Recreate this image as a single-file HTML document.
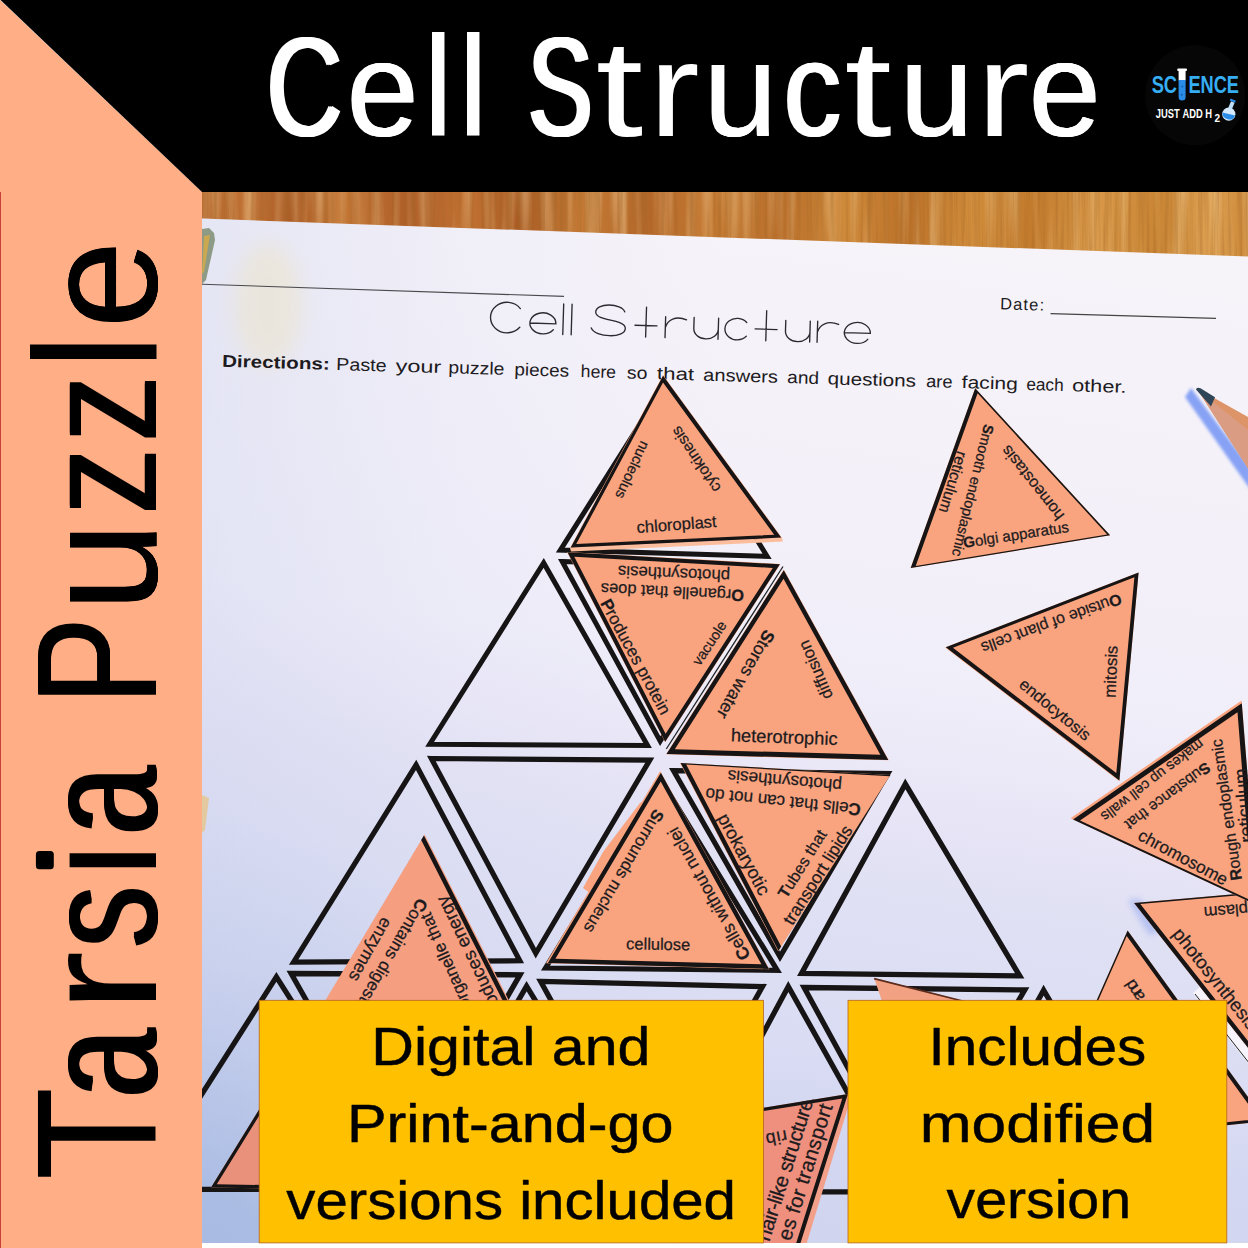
<!DOCTYPE html>
<html><head><meta charset="utf-8"><title>Cell Structure Tarsia Puzzle</title>
<style>
html,body{margin:0;padding:0;background:#fff;}
body{width:1248px;height:1248px;overflow:hidden;font-family:"Liberation Sans",sans-serif;}
svg{display:block;}
svg text{font-family:"Liberation Sans",sans-serif;}
</style></head><body>
<svg width="1248" height="1248" viewBox="0 0 1248 1248">
<defs>
<linearGradient id="paperg" gradientUnits="userSpaceOnUse" x1="860" y1="230" x2="710" y2="1243">
<stop offset="0" stop-color="#f6f3f9"/><stop offset="0.28" stop-color="#f3f0f9"/><stop offset="0.43" stop-color="#f0eef9"/><stop offset="0.5" stop-color="#ece9f8"/><stop offset="0.58" stop-color="#e5e3f5"/><stop offset="0.655" stop-color="#dfe0f4"/><stop offset="0.8" stop-color="#d9dcf3"/><stop offset="0.865" stop-color="#d4d7f1"/><stop offset="1" stop-color="#cfd4ef"/>
</linearGradient>
<linearGradient id="paperl" gradientUnits="userSpaceOnUse" x1="202" y1="0" x2="720" y2="0">
<stop offset="0" stop-color="#c4cdea" stop-opacity="0.32"/><stop offset="0.5" stop-color="#c4cdea" stop-opacity="0.1"/><stop offset="1" stop-color="#c4cdea" stop-opacity="0"/>
</linearGradient>
<radialGradient id="paperr" gradientUnits="userSpaceOnUse" cx="150" cy="1330" r="520">
<stop offset="0" stop-color="#a2b6e1" stop-opacity="1"/><stop offset="0.3" stop-color="#a6b9e2" stop-opacity="0.85"/><stop offset="0.6" stop-color="#b0c0e6" stop-opacity="0.4"/><stop offset="1" stop-color="#b8c6e8" stop-opacity="0"/>
</radialGradient>
<linearGradient id="woodg" gradientUnits="userSpaceOnUse" x1="202" y1="0" x2="1248" y2="30">
<stop offset="0" stop-color="#b3652c"/><stop offset="0.05" stop-color="#c27436"/><stop offset="0.09" stop-color="#ab5c26"/><stop offset="0.14" stop-color="#c37635"/><stop offset="0.2" stop-color="#b0602a"/><stop offset="0.26" stop-color="#c17132"/><stop offset="0.31" stop-color="#aa5c24"/><stop offset="0.37" stop-color="#c47a35"/><stop offset="0.43" stop-color="#b5682a"/><stop offset="0.5" stop-color="#c67b33"/><stop offset="0.56" stop-color="#b86c28"/><stop offset="0.62" stop-color="#cf8a3a"/><stop offset="0.68" stop-color="#bb7129"/><stop offset="0.74" stop-color="#d08c3b"/><stop offset="0.8" stop-color="#c27a2c"/><stop offset="0.86" stop-color="#d89848"/><stop offset="0.92" stop-color="#c98534"/><stop offset="0.97" stop-color="#dda052"/><stop offset="1" stop-color="#cf8c3c"/>
</linearGradient>
<filter id="blur3" x="-30%" y="-30%" width="160%" height="160%"><feGaussianBlur stdDeviation="3"/></filter>
<filter id="blur2" x="-30%" y="-30%" width="160%" height="160%"><feGaussianBlur stdDeviation="1.6"/></filter>
<filter id="blur8" x="-50%" y="-50%" width="200%" height="200%"><feGaussianBlur stdDeviation="10"/></filter>
<filter id="grain" x="0" y="0" width="100%" height="100%"><feTurbulence type="fractalNoise" baseFrequency="0.28 0.008" numOctaves="3" seed="7" result="n"/><feColorMatrix in="n" type="matrix" values="0 0 0 0 0.35  0 0 0 0 0.13  0 0 0 0 0.02  2.6 0 0 0 -1.05"/></filter>
<filter id="grain2" x="0" y="0" width="100%" height="100%"><feTurbulence type="fractalNoise" baseFrequency="0.07 0.004" numOctaves="2" seed="3" result="n"/><feColorMatrix in="n" type="matrix" values="0 0 0 0 0.93  0 0 0 0 0.68  0 0 0 0 0.36  0 2.4 0 0 -1.1"/></filter>
<clipPath id="photo"><rect x="202" y="192" width="1046" height="1051"/></clipPath>
</defs>
<g clip-path="url(#photo)">
<rect x="202" y="192" width="1046" height="70" fill="url(#woodg)"/>
<rect x="202" y="192" width="1046" height="70" filter="url(#grain2)" opacity="0.5"/>
<rect x="202" y="192" width="1046" height="70" filter="url(#grain)" opacity="0.38"/>
<polygon points="202,218.5 1248,256.5 1248,1243 202,1243" fill="url(#paperg)"/>
<polygon points="202,218.5 1248,256.5 1248,1243 202,1243" fill="url(#paperl)"/>
<polygon points="202,218.5 1248,256.5 1248,1243 202,1243" fill="url(#paperr)"/>
<ellipse cx="268" cy="305" rx="34" ry="62" fill="#efe2b2" opacity="0.36" filter="url(#blur8)"/><polygon points="202,795 209,798 205,830 202,833" fill="#e6c48c" opacity="0.8"/>
<polygon points="202,229 209,228 214,233 215,240 206,280 202,284" fill="#8d9a86"/>
<polygon points="204,236 210,235 204,272 202,274" fill="#c9a84f"/>
<line x1="202" y1="284.2" x2="564" y2="296.4" stroke="#4a4a4e" stroke-width="1.1"/>
<text transform="translate(1000.0,309.3) rotate(1.7)" font-size="16.5" fill="#1d1b1e" stroke="#1d1b1e" stroke-width="0" textLength="44.0" lengthAdjust="spacing">Date:</text>
<line x1="1050.5" y1="313.6" x2="1216" y2="318.4" stroke="#444" stroke-width="1.1"/>
<g transform="translate(490.1,332.3) rotate(1.75)" fill="none" stroke="#2b2a30" stroke-width="1.35" stroke-linecap="round">
<path transform="translate(0,0)" d="M29.5,-24.6 A16.5,15.25 0 1 0 29.5,-5.9"/>
<path transform="translate(39.5,0)" d="M0,-10.5 H26 A13,10.5 0 1 0 23.6,-4.5"/>
<path transform="translate(72.7,0)" d="M0,-30.5 V0"/>
<path transform="translate(81.1,0)" d="M0,-30.5 V0"/>
<path transform="translate(101,0)" d="M33,-24.5 C30,-33.5 3,-33 4,-23 C5,-14 34,-17.5 34,-8 C34,2.5 4,2 0,-7.5"/>
<path transform="translate(155.6,0)" d="M0,-30 V0 M-11,-11.5 H11"/>
<path transform="translate(175,0)" d="M0,-21 V0 M0,-10 C2,-18 10,-22.5 21,-18.5"/>
<path transform="translate(203.5,0)" d="M0,-21 V-10 A12.25,10 0 0 0 24.5,-10 M24.5,-21 V0"/>
<path transform="translate(234.6,0)" d="M21.6,-17.7 A12.25,10.75 0 1 0 21.6,-3.8"/>
<path transform="translate(275.8,0)" d="M0,-30 V0 M-11,-11.5 H11"/>
<path transform="translate(295.2,0)" d="M0,-21 V-10 A12.25,10 0 0 0 24.5,-10 M24.5,-21 V0"/>
<path transform="translate(327.1,0)" d="M0,-21 V0 M0,-10 C2,-18 10,-22.5 21,-18.5"/>
<path transform="translate(354.1,0)" d="M0,-10.5 H26 A13,10.5 0 1 0 23.6,-4.5"/>
</g>
<text transform="translate(221.9,366.7) rotate(1.66)" font-size="17" fill="#1d1b1e" font-weight="bold" textLength="107.7" lengthAdjust="spacingAndGlyphs">Directions:</text>
<text transform="translate(336.0,370.0) rotate(1.66)" font-size="17.5" fill="#1d1b1e" textLength="50.5" lengthAdjust="spacingAndGlyphs">Paste</text>
<text transform="translate(395.5,371.7) rotate(1.66)" font-size="17.5" fill="#1d1b1e" textLength="45.7" lengthAdjust="spacingAndGlyphs">your</text>
<text transform="translate(448.3,373.3) rotate(1.66)" font-size="17.5" fill="#1d1b1e" textLength="55.9" lengthAdjust="spacingAndGlyphs">puzzle</text>
<text transform="translate(514.3,375.2) rotate(1.66)" font-size="17.5" fill="#1d1b1e" textLength="54.7" lengthAdjust="spacingAndGlyphs">pieces</text>
<text transform="translate(580.6,377.1) rotate(1.66)" font-size="17.5" fill="#1d1b1e" textLength="35.3" lengthAdjust="spacingAndGlyphs">here</text>
<text transform="translate(626.7,378.4) rotate(1.66)" font-size="17.5" fill="#1d1b1e" textLength="20.5" lengthAdjust="spacingAndGlyphs">so</text>
<text transform="translate(656.8,379.3) rotate(1.66)" font-size="17.5" fill="#1d1b1e" textLength="37.2" lengthAdjust="spacingAndGlyphs">that</text>
<text transform="translate(703.1,380.7) rotate(1.66)" font-size="17.5" fill="#1d1b1e" textLength="74.7" lengthAdjust="spacingAndGlyphs">answers</text>
<text transform="translate(787.1,383.1) rotate(1.66)" font-size="17.5" fill="#1d1b1e" textLength="31.9" lengthAdjust="spacingAndGlyphs">and</text>
<text transform="translate(827.4,384.3) rotate(1.66)" font-size="17.5" fill="#1d1b1e" textLength="88.6" lengthAdjust="spacingAndGlyphs">questions</text>
<text transform="translate(925.9,387.1) rotate(1.66)" font-size="17.5" fill="#1d1b1e" textLength="26.5" lengthAdjust="spacingAndGlyphs">are</text>
<text transform="translate(961.6,388.1) rotate(1.66)" font-size="17.5" fill="#1d1b1e" textLength="56.1" lengthAdjust="spacingAndGlyphs">facing</text>
<text transform="translate(1026.2,390.0) rotate(1.66)" font-size="17.5" fill="#1d1b1e" textLength="37.4" lengthAdjust="spacingAndGlyphs">each</text>
<text transform="translate(1072.0,391.3) rotate(1.66)" font-size="17.5" fill="#1d1b1e" textLength="54.4" lengthAdjust="spacingAndGlyphs">other.</text>
<polygon points="663.0,387.7 560.3,550.1 767.1,556.3" fill="none" stroke="#161414" stroke-width="5.0" stroke-linejoin="miter"/>
<polygon points="543.7,562.9 429.7,744.2 647.6,745.5" fill="none" stroke="#161414" stroke-width="5.0" stroke-linejoin="miter"/>
<polygon points="562.3,561.6 768.6,568.4 660.2,741.1" fill="none" stroke="#161414" stroke-width="5.0" stroke-linejoin="miter"/>
<polygon points="416.1,764.9 293.6,962.2 519.8,960.8" fill="none" stroke="#161414" stroke-width="5.2" stroke-linejoin="miter"/>
<polygon points="431.3,758.5 649.8,760.1 535.8,953.3" fill="none" stroke="#161414" stroke-width="5.2" stroke-linejoin="miter"/>
<polygon points="661.0,780.0 545.6,968.0 777.3,970.4" fill="none" stroke="#161414" stroke-width="5.2" stroke-linejoin="miter"/>
<polygon points="673.5,770.7 887.9,773.5 780.0,956.8" fill="none" stroke="#161414" stroke-width="5.2" stroke-linejoin="miter"/>
<polygon points="905.3,783.9 801.5,973.5 1019.7,975.9" fill="none" stroke="#161414" stroke-width="5.3" stroke-linejoin="miter"/>
<polygon points="276.4,976.9 141.3,1189.3 411.2,1189.3" fill="none" stroke="#161414" stroke-width="5.3" stroke-linejoin="miter"/>
<polygon points="291.1,973.5 520.0,974.8 405.0,1174.7" fill="none" stroke="#161414" stroke-width="5.3" stroke-linejoin="miter"/>
<polygon points="526.6,986.2 404.6,1197.3 655.3,1197.3" fill="none" stroke="#161414" stroke-width="5.3" stroke-linejoin="miter"/>
<polygon points="540.7,981.4 762.5,986.5 652.0,1184.5" fill="none" stroke="#161414" stroke-width="5.3" stroke-linejoin="miter"/>
<polygon points="788.3,986.5 678.1,1191.8 903.1,1191.8" fill="none" stroke="#161414" stroke-width="5.3" stroke-linejoin="miter"/>
<polygon points="804.1,987.5 1024.8,989.9 911.6,1184.6" fill="none" stroke="#161414" stroke-width="5.3" stroke-linejoin="miter"/>
<polygon points="1043.6,990.2 929.5,1197.3 1165.4,1197.3" fill="none" stroke="#161414" stroke-width="5.3" stroke-linejoin="miter"/>
<polygon points="345.0,970.0 211.0,1187.6 560.0,1193.0" fill="#ea917b"/>
<path d="M345.0 970.0 L211.0 1187.6 L560.0 1193.0Z M347.3 972.4 L216.8 1184.3 L556.7 1189.5Z" fill="#161414" fill-rule="evenodd"/>
<polygon points="424.6,834.4 300.0,1042.8 530.0,1042.0" fill="#f59e80"/>
<path d="M423.9 835.6 L300.0 1042.8 L528.7 1042.0Z M421.2 840.1 L300.0 1042.8 L523.7 1042.0Z" fill="#161414" fill-rule="evenodd"/>
<text transform="translate(418.2,897.1) rotate(120.0)" font-size="17.1" fill="#1d1b1e" stroke="#1d1b1e" stroke-width="0.25" textLength="140.0" lengthAdjust="spacing"><tspan font-weight="bold">C</tspan>ontains digestive</text>
<text transform="translate(382.5,916.2) rotate(119.4)" font-size="17.5" fill="#1d1b1e" stroke="#1d1b1e" stroke-width="0.25" textLength="70.1" lengthAdjust="spacing">enzymes</text>
<text transform="translate(473.2,1008.4) rotate(-113.9)" font-size="16.9" fill="#1d1b1e" stroke="#1d1b1e" stroke-width="0.25" textLength="106.0" lengthAdjust="spacing"><tspan font-weight="bold">O</tspan>rganelle that</text>
<text transform="translate(505.9,1016.8) rotate(-115.7)" font-size="18.3" fill="#1d1b1e" stroke="#1d1b1e" stroke-width="0.25" textLength="136.1" lengthAdjust="spacing">produces energy</text>
<polygon points="640,803 603,852 583,888 590,893 646,800" fill="#f9a47f"/>
<polygon points="546.0,963.3 769.4,969.3 660.2,771.0" fill="#f9a47f"/>
<path d="M547.9 963.1 L768.9 969.0 L660.9 772.8Z M555.4 958.8 L761.4 964.3 L660.7 781.5Z" fill="#161414" fill-rule="evenodd"/>
<text transform="translate(626.1,949.3) rotate(0.9)" font-size="16.5" fill="#1d1b1e" stroke="#1d1b1e" stroke-width="0.25" textLength="64.1" lengthAdjust="spacing">cellulose</text>
<text transform="translate(751.0,956.0) rotate(-119.6)" font-size="17.5" fill="#1d1b1e" stroke="#1d1b1e" stroke-width="0.25" textLength="149.8" lengthAdjust="spacing"><tspan font-weight="bold">C</tspan>ells without nuclei</text>
<text transform="translate(654.8,808.1) rotate(120.8)" font-size="16.8" fill="#1d1b1e" stroke="#1d1b1e" stroke-width="0.25" textLength="140.0" lengthAdjust="spacing"><tspan font-weight="bold">S</tspan>urrounds nucleus</text>
<polygon points="890.4,775.0 680.0,763.0 778.2,951.3" fill="#f9a47f"/>
<path d="M890.4 775.0 L680.6 763.0 L778.5 950.8Z M889.7 776.2 L686.2 764.6 L781.2 946.6Z" fill="#161414" fill-rule="evenodd"/>
<text transform="translate(842.3,780.0) rotate(-175.0)" font-size="17.2" fill="#1d1b1e" stroke="#1d1b1e" stroke-width="0.25" textLength="114.6" lengthAdjust="spacing">photosynthesis</text>
<text transform="translate(861.3,804.1) rotate(-174.1)" font-size="17.1" fill="#1d1b1e" stroke="#1d1b1e" stroke-width="0.25" textLength="156.0" lengthAdjust="spacing"><tspan font-weight="bold">C</tspan>ells that can not do</text>
<text transform="translate(717.1,817.7) rotate(61.6)" font-size="18.4" fill="#1d1b1e" stroke="#1d1b1e" stroke-width="0.25" textLength="89.9" lengthAdjust="spacing">prokaryotic</text>
<text transform="translate(786.6,899.2) rotate(-58.0)" font-size="16.2" fill="#1d1b1e" stroke="#1d1b1e" stroke-width="0.25" textLength="76.8" lengthAdjust="spacing"><tspan font-weight="bold">T</tspan>ubes that</text>
<text transform="translate(792.2,926.3) rotate(-57.6)" font-size="17.5" fill="#1d1b1e" stroke="#1d1b1e" stroke-width="0.25" textLength="114.0" lengthAdjust="spacing">transport lipids</text>
<polygon points="780.4,564.0 567.0,552.0 665.2,742.3" fill="#f9a47f"/>
<path d="M779.9 564.3 L567.5 552.3 L665.2 741.7Z M772.8 567.9 L574.3 556.7 L665.6 733.7Z" fill="#161414" fill-rule="evenodd"/>
<text transform="translate(730.3,570.4) rotate(-177.6)" font-size="16.8" fill="#1d1b1e" stroke="#1d1b1e" stroke-width="0.25" textLength="112.3" lengthAdjust="spacing">photosynthesis</text>
<text transform="translate(744.3,590.1) rotate(-177.2)" font-size="16.4" fill="#1d1b1e" stroke="#1d1b1e" stroke-width="0.25" textLength="143.4" lengthAdjust="spacing"><tspan font-weight="bold">O</tspan>rganelle that does</text>
<text transform="translate(599.9,602.9) rotate(61.5)" font-size="17.0" fill="#1d1b1e" stroke="#1d1b1e" stroke-width="0.25" textLength="128.8" lengthAdjust="spacing"><tspan font-weight="bold">P</tspan>roduces protein</text>
<text transform="translate(699.8,666.6) rotate(-56.5)" font-size="14.4" fill="#1d1b1e" stroke="#1d1b1e" stroke-width="0.25" textLength="49.8" lengthAdjust="spacing">vacuole</text>
<line x1="783" y1="566.5" x2="666.3" y2="749" stroke="#222" stroke-width="1.3"/>
<polygon points="666.0,754.3 888.8,760.3 783.8,569.6" fill="#f9a47f"/>
<path d="M666.5 754.0 L888.3 760.0 L783.8 570.2Z M674.8 749.2 L880.4 754.8 L783.5 578.8Z" fill="#161414" fill-rule="evenodd"/>
<text transform="translate(730.7,741.3) rotate(2.1)" font-size="18.3" fill="#1d1b1e" stroke="#1d1b1e" stroke-width="0.25" textLength="106.7" lengthAdjust="spacing">heterotrophic</text>
<text transform="translate(833.3,696.2) rotate(-113.6)" font-size="16.7" fill="#1d1b1e" stroke="#1d1b1e" stroke-width="0.25" textLength="62.3" lengthAdjust="spacing">diffusion</text>
<text transform="translate(765.0,628.5) rotate(119.7)" font-size="17.6" fill="#1d1b1e" stroke="#1d1b1e" stroke-width="0.25" textLength="98.7" lengthAdjust="spacing"><tspan font-weight="bold">S</tspan>tores water</text>
<polygon points="570,548 782,538 783,541.5 571,551.5" fill="#fbbd9c"/>
<polygon points="570.0,548.0 782.0,538.0 663.0,375.0" fill="#f9a47f"/>
<path d="M570.7 547.6 L781.2 537.6 L663.1 375.7Z M576.2 544.1 L774.2 534.8 L663.0 382.5Z" fill="#161414" fill-rule="evenodd"/>
<text transform="translate(637.0,533.0) rotate(-4.3)" font-size="16.6" fill="#1d1b1e" stroke="#1d1b1e" stroke-width="0.25" textLength="80.2" lengthAdjust="spacing">chloroplast</text>
<text transform="translate(721.4,488.0) rotate(-123.9)" font-size="15.5" fill="#1d1b1e" stroke="#1d1b1e" stroke-width="0.25" textLength="75.9" lengthAdjust="spacing">cytokinesis</text>
<text transform="translate(641.0,440.0) rotate(114.9)" font-size="14.6" fill="#1d1b1e" stroke="#1d1b1e" stroke-width="0.25" textLength="61.7" lengthAdjust="spacing">nucleolus</text>
<polygon points="910.7,568.1 1110.1,535.3 975.2,388.3" fill="#f9a47f"/>
<path d="M910.7 568.1 L1110.1 535.3 L975.2 388.3Z M915.7 566.0 L1107.2 534.5 L977.6 393.3Z" fill="#161414" fill-rule="evenodd"/>
<text transform="translate(964.1,547.9) rotate(-8.7)" font-size="15.1" fill="#1d1b1e" stroke="#1d1b1e" stroke-width="0.25" textLength="106.7" lengthAdjust="spacing"><tspan font-weight="bold">G</tspan>olgi apparatus</text>
<text transform="translate(1064.9,515.1) rotate(-128.4)" font-size="16.1" fill="#1d1b1e" stroke="#1d1b1e" stroke-width="0.25" textLength="90.6" lengthAdjust="spacing">homeostasis</text>
<text transform="translate(984.3,423.5) rotate(103.9)" font-size="14.5" fill="#1d1b1e" stroke="#1d1b1e" stroke-width="0.25" textLength="135.4" lengthAdjust="spacing"><tspan font-weight="bold">S</tspan>mooth endoplasmic</text>
<text transform="translate(957.2,450.2) rotate(106.8)" font-size="15.7" fill="#1d1b1e" stroke="#1d1b1e" stroke-width="0.25" textLength="63.6" lengthAdjust="spacing">reticulum</text>
<polygon points="1138.6,572.5 945.1,647.5 1119.3,781.2" fill="#f9a47f"/>
<path d="M1138.6 572.5 L945.8 647.2 L1119.4 780.5Z M1134.4 577.3 L952.9 647.7 L1116.3 773.1Z" fill="#161414" fill-rule="evenodd"/>
<text transform="translate(1119.3,593.2) rotate(160.2)" font-size="16.0" fill="#1d1b1e" stroke="#1d1b1e" stroke-width="0.25" textLength="148.2" lengthAdjust="spacing"><tspan font-weight="bold">O</tspan>utside of plant cells</text>
<text transform="translate(1017.9,686.2) rotate(39.4)" font-size="16.5" fill="#1d1b1e" stroke="#1d1b1e" stroke-width="0.25" textLength="87.1" lengthAdjust="spacing">endocytosis</text>
<text transform="translate(1115.6,697.9) rotate(-87.9)" font-size="16.8" fill="#1d1b1e" stroke="#1d1b1e" stroke-width="0.25" textLength="52.2" lengthAdjust="spacing">mitosis</text>
<polygon points="1127.6,930.5 1032.3,1145.5 1265.4,1121.1" fill="#f9a47f"/>
<path d="M1127.6 930.5 L1032.3 1145.5 L1265.4 1121.1Z M1126.7 936.1 L1035.4 1142.2 L1258.8 1118.8Z" fill="#161414" fill-rule="evenodd"/>
<text transform="translate(1145.6,996.8) rotate(-123.1)" font-size="17.0" fill="#1d1b1e" stroke="#1d1b1e" stroke-width="0.25" textLength="22.3" lengthAdjust="spacing">and</text>
<polygon points="1200,987 1326,1147 1318,1153 1193,993" fill="#f6f4fa"/>
<line x1="1195" y1="994" x2="1318" y2="1151" stroke="#222" stroke-width="1"/>
<polygon points="1128,900 1140,899 1160,930 1150,936" fill="#8fa6ee" opacity="0.55" filter="url(#blur3)"/>
<polygon points="1384.0,881.0 1134.1,903.1 1326.0,1147.0" fill="#f9a47f"/>
<path d="M1384.0 881.0 L1134.1 903.1 L1326.0 1147.0Z M1380.5 882.8 L1140.3 904.1 L1324.8 1138.5Z" fill="#161414" fill-rule="evenodd"/>
<text transform="translate(1278.0,900.8) rotate(175.0)" font-size="16.7" fill="#1d1b1e" stroke="#1d1b1e" stroke-width="0.25" textLength="75.0" lengthAdjust="spacing">cytoplasm</text>
<text transform="translate(1171.7,934.3) rotate(51.4)" font-size="18.6" fill="#1d1b1e" stroke="#1d1b1e" stroke-width="0.25" textLength="124.0" lengthAdjust="spacing">photosynthesis</text>
<polygon points="1241.6,700.5 1070.5,818.2 1258.0,905.6" fill="#f9a47f"/>
<path d="M1241.8 703.3 L1073.0 819.4 L1258.0 905.6Z M1237.5 712.3 L1080.0 820.6 L1252.6 901.1Z" fill="#161414" fill-rule="evenodd"/>
<text transform="translate(1199.3,738.5) rotate(142.7)" font-size="14.5" fill="#1d1b1e" stroke="#1d1b1e" stroke-width="0.25" textLength="125.2" lengthAdjust="spacing">makes up cell walls</text>
<text transform="translate(1205.4,761.4) rotate(143.4)" font-size="15.3" fill="#1d1b1e" stroke="#1d1b1e" stroke-width="0.25" textLength="102.0" lengthAdjust="spacing"><tspan font-weight="bold">S</tspan>ubstance that</text>
<text transform="translate(1136.7,839.0) rotate(28.2)" font-size="17.1" fill="#1d1b1e" stroke="#1d1b1e" stroke-width="0.25" textLength="98.9" lengthAdjust="spacing">chromosome</text>
<text transform="translate(1241.9,879.5) rotate(-98.1)" font-size="16.1" fill="#1d1b1e" stroke="#1d1b1e" stroke-width="0.25" textLength="142.4" lengthAdjust="spacing"><tspan font-weight="bold">R</tspan>ough endoplasmic</text>
<text transform="translate(1253.0,842.0) rotate(-95.0)" font-size="18.3" fill="#1d1b1e" stroke="#1d1b1e" stroke-width="0.25" textLength="74.3" lengthAdjust="spacing">reticulum</text>
<polygon points="874.1,978.1 958.6,999.7 1000,1010 885,1010" fill="#f3a183"/><line x1="874.1" y1="978.6" x2="1000" y2="1010.5" stroke="#5a2a1a" stroke-width="1.6"/>
<polygon points="847.9,1094.1 849,1104 806.8,1243 790,1243" fill="#f3a08a"/>
<polygon points="847.9,1094.1 600.0,1133.9 760.0,1370.0" fill="#ee907d"/>
<path d="M847.9 1094.1 L600.0 1133.9 L760.0 1370.0Z M842.3 1098.4 L602.1 1137.0 L757.1 1365.8Z" fill="#161414" fill-rule="evenodd"/>
<clipPath id="nclip"><polygon points="847.9,1094.1 600,1133.9 760,1370"/></clipPath><g clip-path="url(#nclip)">
<text transform="translate(790.5,1241.7) rotate(-72.6)" font-size="20.5" fill="#1d1b1e" stroke="#1d1b1e" stroke-width="0.25" textLength="141.8" lengthAdjust="spacing">es for transport</text>
<text transform="translate(769.3,1242.2) rotate(-72.6)" font-size="20.5" fill="#1d1b1e" stroke="#1d1b1e" stroke-width="0.25" textLength="157.4" lengthAdjust="spacing">hair-like structures</text>
<text transform="translate(786.0,1130.0) rotate(169.2)" font-size="18.0" fill="#1d1b1e" stroke="#1d1b1e" stroke-width="0.25" textLength="21.4" lengthAdjust="spacing">rib</text>
</g>
<polygon points="1191,388 1250,468 1250,489 1185,397" fill="#7b9af4" opacity="0.9" filter="url(#blur2)"/>
<polygon points="1196.3,388 1248,417 1248,468.5" fill="#dc9468"/>
<polygon points="1203,394 1248,430 1248,468.5 1204,399" fill="#d9a18f" opacity="0.7"/>
<path d="M1196,389.5 Q1196.5,386.8 1200.5,388.3 L1215,397.3 L1211,406.5 Z" fill="#2f4558"/>
</g>
<polygon points="0,0 202,192 202,1248 0,1248" fill="#ffae85"/>
<rect x="0" y="192" width="1" height="1056" fill="#c8403a"/>
<polygon points="0.5,0 1248,0 1248,192 202,192" fill="#000"/>
<rect x="202" y="1243" width="1046" height="5" fill="#fff"/>
<text transform="translate(264.87,135.83) scale(1.0488,1.4068)" font-size="100" font-weight="normal" fill="#ffffff">C</text><text transform="translate(266.67,135.83) scale(1.0488,1.4068)" font-size="100" font-weight="normal" fill="#ffffff">C</text><text transform="translate(268.46,135.83) scale(1.0488,1.4068)" font-size="100" font-weight="normal" fill="#ffffff">C</text>
<text transform="translate(346.12,135.88) scale(1.2902,1.3544)" font-size="100" font-weight="normal" fill="#ffffff">e</text><text transform="translate(346.85,135.88) scale(1.2902,1.3544)" font-size="100" font-weight="normal" fill="#ffffff">e</text><text transform="translate(347.58,135.88) scale(1.2902,1.3544)" font-size="100" font-weight="normal" fill="#ffffff">e</text>
<text transform="translate(422.59,135.50) scale(1.4108,1.4256)" font-size="100" font-weight="normal" fill="#ffffff">l</text>
<text transform="translate(457.59,135.50) scale(1.4108,1.4256)" font-size="100" font-weight="normal" fill="#ffffff">l</text>
<text transform="translate(526.04,135.83) scale(0.9594,1.4068)" font-size="100" font-weight="normal" fill="#ffffff">S</text><text transform="translate(527.14,135.83) scale(0.9594,1.4068)" font-size="100" font-weight="normal" fill="#ffffff">S</text><text transform="translate(528.23,135.83) scale(0.9594,1.4068)" font-size="100" font-weight="normal" fill="#ffffff">S</text><text transform="translate(529.32,135.83) scale(0.9594,1.4068)" font-size="100" font-weight="normal" fill="#ffffff">S</text><text transform="translate(530.41,135.83) scale(0.9594,1.4068)" font-size="100" font-weight="normal" fill="#ffffff">S</text>
<text transform="translate(595.82,135.92) scale(1.7073,1.3771)" font-size="100" font-weight="normal" fill="#ffffff">t</text>
<text transform="translate(648.91,135.50) scale(1.5200,1.3381)" font-size="100" font-weight="normal" fill="#ffffff">r</text>
<text transform="translate(702.98,135.69) scale(1.3267,1.3381)" font-size="100" font-weight="normal" fill="#ffffff">u</text><text transform="translate(703.55,135.69) scale(1.3267,1.3381)" font-size="100" font-weight="normal" fill="#ffffff">u</text><text transform="translate(704.12,135.69) scale(1.3267,1.3381)" font-size="100" font-weight="normal" fill="#ffffff">u</text>
<text transform="translate(782.31,135.88) scale(1.1507,1.3544)" font-size="100" font-weight="normal" fill="#ffffff">c</text><text transform="translate(783.65,135.88) scale(1.1507,1.3544)" font-size="100" font-weight="normal" fill="#ffffff">c</text><text transform="translate(785.00,135.88) scale(1.1507,1.3544)" font-size="100" font-weight="normal" fill="#ffffff">c</text>
<text transform="translate(844.62,135.92) scale(1.7034,1.3771)" font-size="100" font-weight="normal" fill="#ffffff">t</text>
<text transform="translate(899.08,135.69) scale(1.3267,1.3381)" font-size="100" font-weight="normal" fill="#ffffff">u</text><text transform="translate(899.65,135.69) scale(1.3267,1.3381)" font-size="100" font-weight="normal" fill="#ffffff">u</text><text transform="translate(900.22,135.69) scale(1.3267,1.3381)" font-size="100" font-weight="normal" fill="#ffffff">u</text>
<text transform="translate(976.81,135.50) scale(1.5800,1.3381)" font-size="100" font-weight="normal" fill="#ffffff">r</text>
<text transform="translate(1027.89,135.88) scale(1.2980,1.3544)" font-size="100" font-weight="normal" fill="#ffffff">e</text><text transform="translate(1028.58,135.88) scale(1.2980,1.3544)" font-size="100" font-weight="normal" fill="#ffffff">e</text><text transform="translate(1029.28,135.88) scale(1.2980,1.3544)" font-size="100" font-weight="normal" fill="#ffffff">e</text>
<g transform="rotate(-90)"><text transform="translate(-1180.20,156.20) scale(1.5270,1.7050)" font-size="100" font-weight="normal" fill="#000">T</text></g>
<g transform="rotate(-90)"><text transform="translate(-1099.20,156.20) scale(1.2236,1.6337)" font-size="100" font-weight="normal" fill="#000">a</text><text transform="translate(-1097.28,156.20) scale(1.2236,1.6337)" font-size="100" font-weight="normal" fill="#000">a</text><text transform="translate(-1095.35,156.20) scale(1.2236,1.6337)" font-size="100" font-weight="normal" fill="#000">a</text></g>
<g transform="rotate(-90)"><text transform="translate(-1013.03,156.20) scale(1.8720,1.6336)" font-size="100" font-weight="normal" fill="#000">r</text></g>
<g transform="rotate(-90)"><text transform="translate(-948.87,156.20) scale(1.2093,1.6380)" font-size="100" font-weight="normal" fill="#000">s</text><text transform="translate(-946.88,156.20) scale(1.2093,1.6380)" font-size="100" font-weight="normal" fill="#000">s</text><text transform="translate(-944.89,156.20) scale(1.2093,1.6380)" font-size="100" font-weight="normal" fill="#000">s</text></g>
<g transform="rotate(-90)"><text transform="translate(-882.29,156.20) scale(1.5929,1.6297)" font-size="100" font-weight="normal" fill="#000">ı</text></g>
<g transform="rotate(-90)"><text transform="translate(-836.48,156.20) scale(1.2189,1.6337)" font-size="100" font-weight="normal" fill="#000">a</text><text transform="translate(-834.53,156.20) scale(1.2189,1.6337)" font-size="100" font-weight="normal" fill="#000">a</text><text transform="translate(-832.59,156.20) scale(1.2189,1.6337)" font-size="100" font-weight="normal" fill="#000">a</text></g>
<g transform="rotate(-90)"><text transform="translate(-705.58,156.20) scale(1.3020,1.7079)" font-size="100" font-weight="normal" fill="#000">P</text><text transform="translate(-704.48,156.20) scale(1.3020,1.7079)" font-size="100" font-weight="normal" fill="#000">P</text><text transform="translate(-703.38,156.20) scale(1.3020,1.7079)" font-size="100" font-weight="normal" fill="#000">P</text></g>
<g transform="rotate(-90)"><text transform="translate(-612.01,156.21) scale(1.6176,1.6299)" font-size="100" font-weight="normal" fill="#000">u</text><text transform="translate(-611.81,156.21) scale(1.6176,1.6299)" font-size="100" font-weight="normal" fill="#000">u</text><text transform="translate(-611.62,156.21) scale(1.6176,1.6299)" font-size="100" font-weight="normal" fill="#000">u</text></g>
<g transform="rotate(-90)"><text transform="translate(-515.13,156.20) scale(1.2897,1.6297)" font-size="100" font-weight="normal" fill="#000">z</text><text transform="translate(-513.49,156.20) scale(1.2897,1.6297)" font-size="100" font-weight="normal" fill="#000">z</text><text transform="translate(-511.86,156.20) scale(1.2897,1.6297)" font-size="100" font-weight="normal" fill="#000">z</text></g>
<g transform="rotate(-90)"><text transform="translate(-442.79,156.20) scale(1.3053,1.6297)" font-size="100" font-weight="normal" fill="#000">z</text><text transform="translate(-441.23,156.20) scale(1.3053,1.6297)" font-size="100" font-weight="normal" fill="#000">z</text><text transform="translate(-439.66,156.20) scale(1.3053,1.6297)" font-size="100" font-weight="normal" fill="#000">z</text></g>
<g transform="rotate(-90)"><text transform="translate(-370.19,156.20) scale(1.6612,1.7375)" font-size="100" font-weight="normal" fill="#000">l</text></g>
<g transform="rotate(-90)"><text transform="translate(-328.68,156.20) scale(1.5734,1.6337)" font-size="100" font-weight="normal" fill="#000">e</text><text transform="translate(-328.30,156.20) scale(1.5734,1.6337)" font-size="100" font-weight="normal" fill="#000">e</text><text transform="translate(-327.91,156.20) scale(1.5734,1.6337)" font-size="100" font-weight="normal" fill="#000">e</text></g>
<rect x="35.9" y="851" width="17.9" height="18.2" rx="3.5" fill="#000"/>
<rect x="259.2" y="1000.3" width="504.2" height="242.6" fill="#ffc000" stroke="#b5651d" stroke-width="0.8"/>
<rect x="848" y="1000.3" width="378.8" height="242.6" fill="#ffc000" stroke="#b5651d" stroke-width="0.8"/>
<text transform="translate(371.25,1065.40) scale(1.1151,1.0000)" font-size="53" font-weight="normal" fill="#000" style="font-kerning:none" stroke="#000" stroke-width="0.5" vector-effect="non-scaling-stroke" stroke-linejoin="round">Digital and</text>
<text transform="translate(347.03,1142.20) scale(1.1193,1.0000)" font-size="53" font-weight="normal" fill="#000" style="font-kerning:none" stroke="#000" stroke-width="0.5" vector-effect="non-scaling-stroke" stroke-linejoin="round">Print-and-go</text>
<text transform="translate(286.30,1218.90) scale(1.0983,1.0000)" font-size="53" font-weight="normal" fill="#000" style="font-kerning:none" stroke="#000" stroke-width="0.5" vector-effect="non-scaling-stroke" stroke-linejoin="round">versions included</text>
<text transform="translate(928.51,1064.70) scale(1.1028,1.0000)" font-size="53" font-weight="normal" fill="#000" style="font-kerning:none" stroke="#000" stroke-width="0.5" vector-effect="non-scaling-stroke" stroke-linejoin="round">Includes</text>
<text transform="translate(919.77,1141.50) scale(1.1748,1.0000)" font-size="53" font-weight="normal" fill="#000" style="font-kerning:none" stroke="#000" stroke-width="0.5" vector-effect="non-scaling-stroke" stroke-linejoin="round">modified</text>
<text transform="translate(946.50,1218.00) scale(1.0806,1.0000)" font-size="53" font-weight="normal" fill="#000" style="font-kerning:none" stroke="#000" stroke-width="0.5" vector-effect="non-scaling-stroke" stroke-linejoin="round">version</text>
<circle cx="1195.2" cy="95.2" r="50" fill="#060606"/>
<text transform="translate(1151.67,93.40) scale(0.9152,1.1600)" font-size="20" font-weight="bold" fill="#36aef4" style="font-kerning:none">SC</text>
<text transform="translate(1188.38,93.40) scale(0.9112,1.1600)" font-size="20" font-weight="bold" fill="#36aef4" style="font-kerning:none">ENCE</text>
<rect x="1177.2" y="68.4" width="9.8" height="2.6" rx="1" fill="#fff"/><path d="M1178.6 70 h7 v10.5 h-7z" fill="#fff"/><path d="M1178.6 80 h7 v17 a3.5 3.5 0 0 1 -7 0z" fill="#2b8ce8"/><circle cx="1182.3" cy="86.5" r="1" fill="#1a5fb0"/><circle cx="1181.7" cy="94.8" r="1" fill="#1a5fb0"/>
<text transform="translate(1155.86,118.40) scale(0.9378,1.2500)" font-size="10" font-weight="bold" fill="#fff" style="font-kerning:none">JUST ADD H</text>
<text x="1214.4" y="121.9" font-size="10" font-weight="bold" fill="#fff">2</text>
<circle cx="1228.8" cy="114.2" r="6.6" fill="#d6ecfe"/><path d="M1222.5 112.6 L1235.2 115.4 A6.6 6.6 0 0 1 1222.5 112.6 z" fill="#2b8ce8"/><polygon points="1228.2,108 1231,101.2 1234.6,102.7 1231.8,109.5" fill="#bfe0fb"/><rect x="1230" y="99.5" width="5.6" height="2.2" fill="#2b8ce8" transform="rotate(22 1232.7 100.6)"/>
</svg>
</body></html>
